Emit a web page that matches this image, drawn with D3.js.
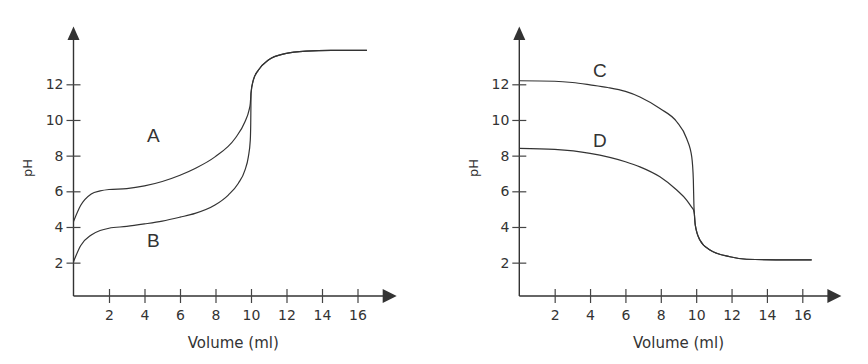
<!DOCTYPE html>
<html>
<head>
<meta charset="utf-8">
<script src="https://cdn.jsdelivr.net/npm/d3@7"></script>
<style>
  body { margin: 0; background: #fff; }
  svg text { fill: #333; }
</style>
</head>
<body>
<svg id="chart" width="868" height="364"></svg>
<script>
// titration curves

const xTicks = [2, 4, 6, 8, 10, 12, 14, 16];
const yTicks = [2, 4, 6, 8, 10, 12];

// left panel: A and B rise, then share one tail
const aVol = [0, 0.4, 1.0, 1.5, 2, 3, 4, 5, 6, 6.85, 7.97, 9.1, 9.66, 9.89, 9.96];
const aPh = [4.3, 5.2, 5.85, 6.02, 6.1, 6.15, 6.3, 6.55, 6.9, 7.28, 7.93, 8.96, 9.9, 10.55, 10.92];
const bVol = [0, 0.4, 1.0, 1.5, 2, 3, 4, 5, 6, 6.85, 7.97, 8.72, 9.28, 9.66, 9.85, 9.96, 9.985, 9.995];
const bPh = [2.05, 2.95, 3.55, 3.8, 3.93, 4.03, 4.17, 4.33, 4.55, 4.76, 5.23, 5.79, 6.44, 7.19, 7.93, 8.87, 9.8, 10.73];
const riseVol = [10.0, 10.13, 10.41, 10.98, 11.92, 13.1, 14.5, 16.53];
const risePh = [11.5, 12.23, 12.79, 13.36, 13.72, 13.86, 13.9, 13.9];

// right panel: C and D fall, then share one tail
const cVol = [0, 2, 3, 4, 5, 6, 6.82, 7.95, 8.9, 9.46, 9.75, 9.84, 9.87];
const cPh = [12.2, 12.17, 12.1, 11.97, 11.82, 11.6, 11.29, 10.64, 9.9, 8.96, 7.93, 6.63, 5.3];
const dVol = [0, 2, 4, 6, 6.82, 7.95, 8.9, 9.46, 9.75, 9.85];
const dPh = [8.41, 8.35, 8.13, 7.66, 7.37, 6.81, 6.07, 5.51, 5.1, 4.95];
const fallVol = [9.9, 9.95, 10.21, 10.78, 11.91, 12.85, 14.5, 16.53];
const fallPh = [4.7, 4.1, 3.27, 2.71, 2.33, 2.19, 2.16, 2.16];

const leftNames = ["A", "B"];
const leftLabelAt = [[4.5, 9.15], [4.5, 3.27]];
const rightNames = ["C", "D"];
const rightLabelAt = [[4.55, 12.8], [4.55, 8.87]];

const zip = (xs, ys) => xs.map((x, i) => [x, ys[i]]);

const svg = d3.select("#chart");

function panel(x0, x16, curves, names, labelAt) {
  const x = d3.scaleLinear().domain([0, 16]).range([x0, x16]);
  // the x axis sits a touch above pH 0 in the original
  const y = d3.scaleLinear().domain([0.13, 12]).range([296, 84.3]);

  const g = svg.append("g");
  const ox = x(0), oy = y(0.13);

  // axis lines with arrow heads
  g.append("line").attr("x1", ox).attr("x2", ox).attr("y1", oy).attr("y2", 38)
    .attr("stroke", "#333").attr("stroke-width", 1.4);
  g.append("path").attr("d", `M${ox - 6},40 L${ox},26.5 L${ox + 6},40 Z`).attr("fill", "#333");
  const xEnd = x0 + (x16 - x0) * 1.138;
  g.append("line").attr("x1", ox).attr("x2", xEnd - 12).attr("y1", oy).attr("y2", oy)
    .attr("stroke", "#333").attr("stroke-width", 1.4);
  g.append("path").attr("d", `M${xEnd - 14},${oy - 7} L${xEnd},${oy} L${xEnd - 14},${oy + 7} Z`).attr("fill", "#333");

  const xAxis = g.append("g").attr("transform", `translate(0,${oy})`)
    .call(d3.axisBottom(x).tickValues(xTicks).tickSize(7).tickPadding(7));
  const yAxis = g.append("g").attr("transform", `translate(${ox},0)`)
    .call(d3.axisLeft(y).tickValues(yTicks).tickSize(7).tickPadding(3));

  [xAxis, yAxis].forEach(a => {
    a.select(".domain").remove();
    a.selectAll("text").attr("font-family", "DejaVu Sans, Verdana, sans-serif")
      .attr("font-size", 14).attr("fill", "#333");
    a.selectAll("line").attr("stroke", "#444").attr("stroke-width", 1.2);
  });
  // ticks cross the axis on both sides
  xAxis.selectAll(".tick line").attr("y1", -7).attr("y2", 7);
  yAxis.selectAll(".tick line").attr("x1", -7).attr("x2", 7);

  g.append("text").attr("x", x(9)).attr("y", 348).attr("text-anchor", "middle")
    .attr("font-family", "DejaVu Sans, Verdana, sans-serif").attr("font-size", 15)
    .text("Volume (ml)");
  g.append("text").attr("transform", `translate(${ox - 46},168) rotate(-90)`)
    .attr("text-anchor", "middle").attr("dy", "0.35em")
    .attr("font-family", "DejaVu Sans, Verdana, sans-serif").attr("font-size", 13)
    .text("pH");

  const line = d3.line().x(d => x(d[0])).y(d => y(d[1])).curve(d3.curveMonotoneX);
  g.selectAll("path.curve").data(curves).join("path").attr("class", "curve")
    .attr("d", line).attr("fill", "none").attr("stroke", "#333").attr("stroke-width", 1.2);

  g.selectAll("text.tag").data(names).join("text").attr("class", "tag")
    .attr("x", (d, i) => x(labelAt[i][0])).attr("y", (d, i) => y(labelAt[i][1]))
    .attr("text-anchor", "middle").attr("dy", "0.35em")
    .attr("font-family", "Liberation Sans, Arial, sans-serif").attr("font-size", 19)
    .text(d => d);
}

panel(73.5, 357.5,
  [zip(aVol.concat(riseVol), aPh.concat(risePh)), zip(bVol.concat(riseVol), bPh.concat(risePh))],
  leftNames, leftLabelAt);
panel(519.3, 802.3,
  [zip(cVol.concat(fallVol), cPh.concat(fallPh)), zip(dVol.concat(fallVol), dPh.concat(fallPh))],
  rightNames, rightLabelAt);
</script>
</body>
</html>
